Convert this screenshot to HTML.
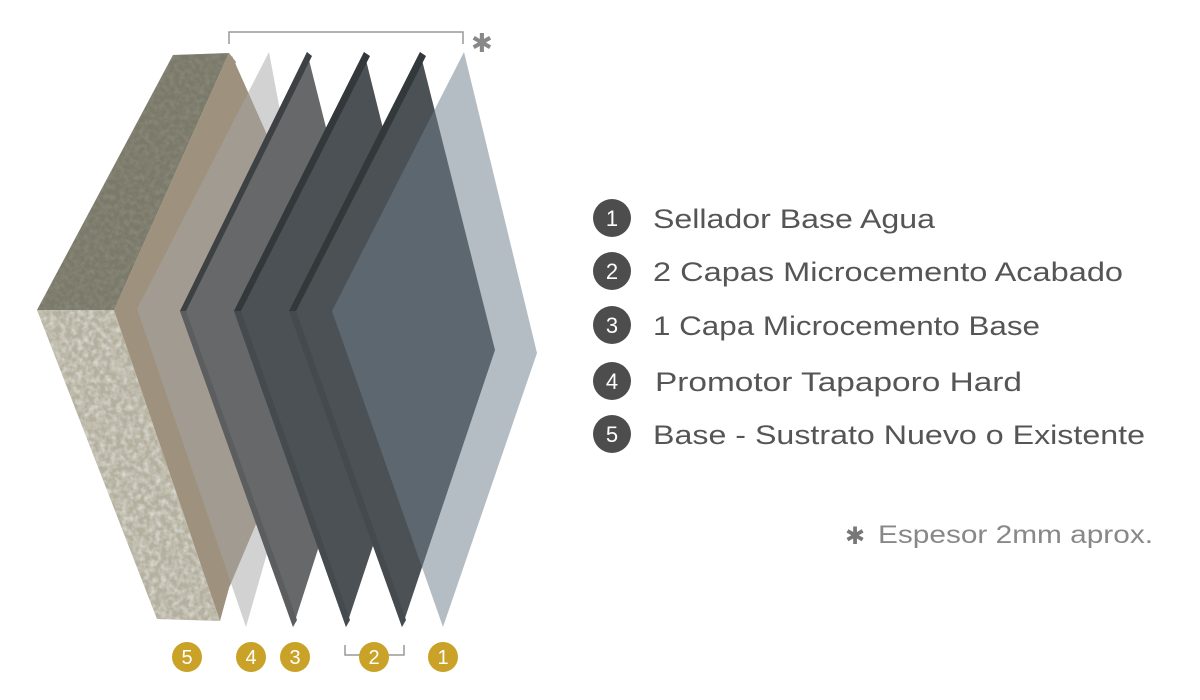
<!DOCTYPE html>
<html><head><meta charset="utf-8"><style>
html,body{margin:0;padding:0;background:#fff;}
svg{display:block;}
text{font-family:"Liberation Sans",sans-serif;}
</style></head><body>
<svg width="1200" height="700" viewBox="0 0 1200 700" xmlns="http://www.w3.org/2000/svg">
<defs>
<filter id="tex" x="0" y="0" width="100%" height="100%">
<feTurbulence type="fractalNoise" baseFrequency="0.18" numOctaves="2" seed="3" result="n"/>
<feColorMatrix in="n" type="matrix" values="0 0 0 0 1  0 0 0 0 1  0 0 0 0 1  1.6 0 0 0 -0.55" result="w"/>
<feComposite in="w" in2="SourceGraphic" operator="in"/>
</filter>
<filter id="texd" x="0" y="0" width="100%" height="100%">
<feTurbulence type="fractalNoise" baseFrequency="0.2" numOctaves="2" seed="7" result="n"/>
<feColorMatrix in="n" type="matrix" values="0 0 0 0 0.3  0 0 0 0 0.3  0 0 0 0 0.25  1.6 0 0 0 -0.6" result="w"/>
<feComposite in="w" in2="SourceGraphic" operator="in"/>
</filter>
</defs>

<!-- top bracket -->
<path d="M229,44 V32 H463 V44" fill="none" stroke="#999" stroke-width="1.5"/>
<text x="471" y="52" font-size="26" fill="#888">✱</text>

<!-- tan face behind layer 4 -->
<polygon points="232,56 345,310 300,420 229,588 114,310" fill="#9e917d"/>

<!-- base slab -->
<polygon points="173,55 229,53 114,310 37,310" fill="#7b7a6a"/>
<polygon points="173,55 229,53 114,310 37,310" fill="#000" filter="url(#texd)" opacity="0.7"/>
<polygon points="37,310 114,310 220,621 157,619" fill="#b4b09f"/>
<polygon points="37,310 114,310 220,621 157,619" fill="#000" filter="url(#tex)" opacity="0.6"/>
<polygon points="229,53 236,62 136,309 229,588 220,621 114,310" fill="#9e917d"/>

<!-- layer 4 (translucent light grey) -->
<polygon points="269,52 325,350 246,627 137,309" fill="rgb(165,165,165)" opacity="0.5"/>

<!-- layer 3 -->
<polygon points="307,52 382,350 293,627 180,311" fill="#676869"/>
<polygon points="307,52 312,56 186,311 180,311" fill="#3e4143"/>
<polygon points="180,311 186,311 297,620 293,627" fill="#5c5d5f"/>

<!-- layer 2a -->
<polygon points="364,52 438,350 346,627 234,311" fill="#4b5154"/>
<polygon points="364,52 370,56 241,311 234,311" fill="#33383a"/>
<polygon points="234,311 241,311 350,620 346,627" fill="#444a4d"/>

<!-- layer 2b -->
<polygon points="420,52 495,350 402,627 289,311" fill="#4b5154"/>
<polygon points="420,52 426,56 296,311 289,311" fill="#33383a"/>
<polygon points="289,311 296,311 406,620 402,627" fill="#444a4d"/>

<!-- layer 1 translucent -->
<polygon points="464,52 537,353 443,627 332,311" fill="rgb(110,126,139)" opacity="0.51"/>

<!-- bottom labels -->
<path d="M345,645 V655 H362 M387,655 H404 V645" fill="none" stroke="#999" stroke-width="1.5"/>
<g fill="#c9a227">
<circle cx="187" cy="657" r="15"/><circle cx="251" cy="657" r="15"/><circle cx="295" cy="657" r="15"/><circle cx="374" cy="657" r="15"/><circle cx="443" cy="657" r="15"/>
</g>
<g fill="#fff" font-size="20" text-anchor="middle">
<text x="187" y="664">5</text><text x="251" y="664">4</text><text x="295" y="664">3</text><text x="374" y="664">2</text><text x="443" y="664">1</text>
</g>

<!-- legend -->
<g fill="#4d4d4d">
<circle cx="612" cy="218" r="19"/><circle cx="612" cy="271" r="19"/><circle cx="612" cy="325" r="19"/><circle cx="612" cy="381" r="19"/><circle cx="612" cy="434" r="19"/>
</g>
<g fill="#fff" font-size="22" text-anchor="middle">
<text x="612" y="226">1</text><text x="612" y="279">2</text><text x="612" y="333">3</text><text x="612" y="389">4</text><text x="612" y="442">5</text>
</g>
<g fill="#555" font-size="27">
<text x="653" y="228" textLength="282" lengthAdjust="spacingAndGlyphs">Sellador Base Agua</text>
<text x="653" y="281" textLength="470" lengthAdjust="spacingAndGlyphs">2 Capas Microcemento Acabado</text>
<text x="653" y="335" textLength="387" lengthAdjust="spacingAndGlyphs">1 Capa Microcemento Base</text>
<text x="655" y="391" textLength="367" lengthAdjust="spacingAndGlyphs">Promotor Tapaporo Hard</text>
<text x="653" y="444" textLength="492" lengthAdjust="spacingAndGlyphs">Base - Sustrato Nuevo o Existente</text>
</g>
<text x="845" y="544" font-size="24" fill="#777">✱</text>
<text x="878" y="543" font-size="25" fill="#888" textLength="275" lengthAdjust="spacingAndGlyphs">Espesor 2mm aprox.</text>
</svg>
</body></html>
